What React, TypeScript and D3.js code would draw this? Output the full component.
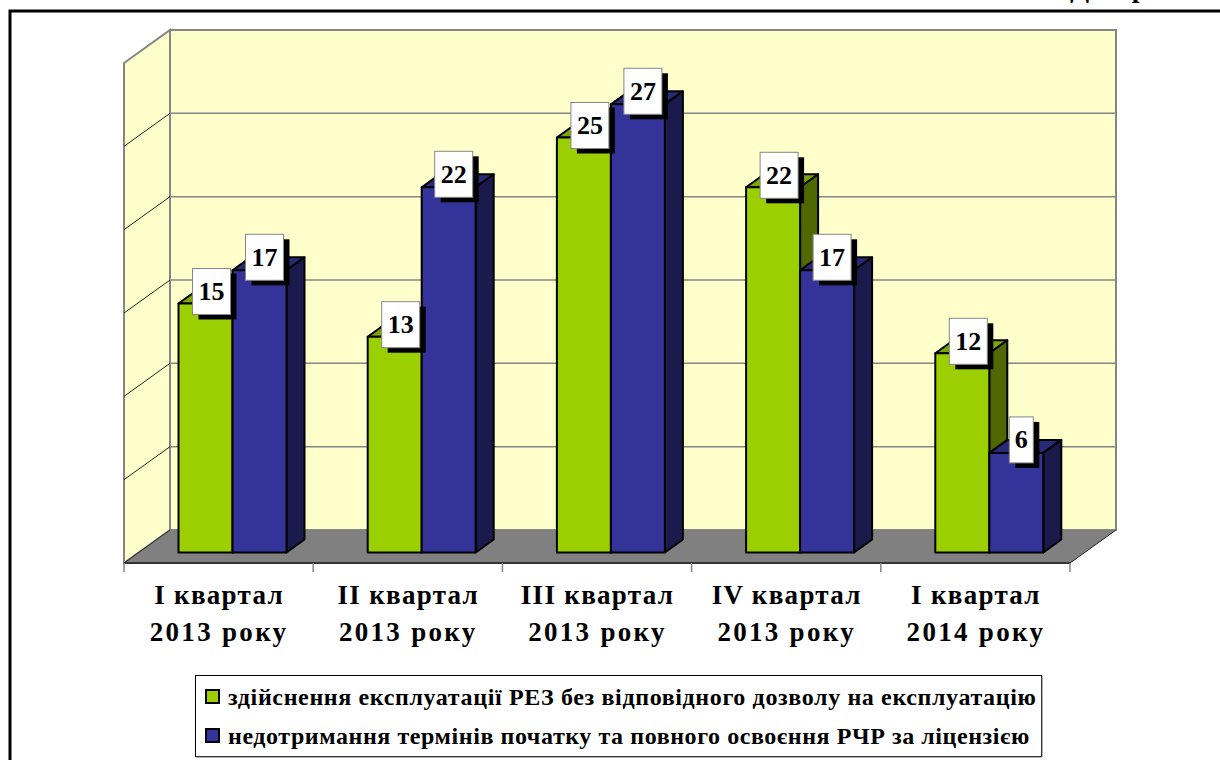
import React from "react";
import * as d3 from "d3";

const categories = [
  ["I квартал", "2013 року"],
  ["II квартал", "2013 року"],
  ["III квартал", "2013 року"],
  ["IV квартал", "2013 року"],
  ["I квартал", "2014 року"],
];
const seriesA = [15, 13, 25, 22, 12];
const seriesB = [17, 22, 27, 17, 6];
const gridValues = [0, 5, 10, 15, 20, 25, 30];
const legendLabels = [
  "здійснення експлуатації РЕЗ без відповідного дозволу на експлуатацію",
  "недотримання термінів початку та повного освоєння РЧР за ліцензією",
];

const FRONT = "#9ccf00", TOP_A = "#7da600", SIDE_A = "#4f6800";
const BLUE = "#333399", TOP_B = "#29297a", SIDE_B = "#1a1a4d";
const WALL = "#ffffcc", GRID = "#868686", FLOOR = "#808080";
const FONT = "'Liberation Serif', 'Times New Roman', serif";

const y0Front = 563, wallDx = 46, wallDy = -33;
const xLeft = 124, xRight = 1070;
const barDx = 18, barDy = -13;
const barBase = 552.5;

const yBack = d3.scaleLinear().domain([0, 30]).range([530, 30]);
const yBar = d3.scaleLinear().domain([0, 30]).range([barBase, barBase - 498]);
const xBand = d3.scaleBand<number>().domain(d3.range(5)).range([xLeft, xRight]);

function pts(p: [number, number][]) {
  return p.map((d) => d.join(",")).join(" ");
}

function Bar({ x, w, v, front, top, side }: any) {
  const t = yBar(v);
  return (
    <g stroke="#000" strokeWidth={2} strokeLinejoin="round">
      <polygon points={pts([[x, t], [x + barDx, t + barDy], [x + w + barDx, t + barDy], [x + w, t]])} fill={top} />
      <polygon points={pts([[x + w, t], [x + w + barDx, t + barDy], [x + w + barDx, barBase + barDy], [x + w, barBase]])} fill={side} />
      <rect x={x} y={t} width={w} height={barBase - t} fill={front} />
    </g>
  );
}

function Tag({ cx, cy, v }: any) {
  const w = v < 10 ? 24 : 38, h = 46;
  return (
    <g>
      <rect x={cx - w / 2 + 6} y={cy - h / 2 + 5} width={w} height={h} fill="#000" />
      <rect x={cx - w / 2} y={cy - h / 2} width={w} height={h} fill="#fff" stroke="#868686" strokeWidth={1} />
      <text x={cx} y={cy + 8.5} textAnchor="middle" fontFamily={FONT} fontWeight="bold" fontSize={26} fill="#000">{v}</text>
    </g>
  );
}

export default function App() {
  const bw = 54;
  const groupStart = (i: number) => (xBand(i) as number) + 54.5;
  return (
    <svg width={1220} height={760} viewBox="0 0 1220 760" style={{ position: "absolute", left: 0, top: 0, background: "#fff" }}>
      {/* page frame */}
      <rect x={10} y={11} width={1240} height={800} fill="none" stroke="#000" strokeWidth={3} />
      <text x={1070} y={-3} fontFamily={FONT} fontWeight="bold" fontSize={28} letterSpacing={2} fill="#000">Діаграма</text>

      {/* walls */}
      <polygon points={pts([[xLeft, yBack(30) - wallDy], [xLeft + wallDx, yBack(30)], [xLeft + wallDx, yBack(0)], [xLeft, y0Front]])} fill={WALL} stroke={GRID} strokeWidth={2} />
      <rect x={xLeft + wallDx} y={yBack(30)} width={xRight - xLeft} height={500} fill={WALL} stroke={GRID} strokeWidth={2} />
      {gridValues.slice(1, -1).map((g) => (
        <g key={g}>
          <line x1={xLeft + wallDx} x2={xRight + wallDx} y1={yBack(g)} y2={yBack(g)} stroke={GRID} strokeWidth={1.5} />
          <line x1={xLeft} x2={xLeft + wallDx} y1={yBack(g) - wallDy} y2={yBack(g)} stroke="#222" strokeWidth={1} />
        </g>
      ))}
      {/* floor */}
      <polygon points={pts([[xLeft, y0Front], [xLeft + wallDx, yBack(0)], [xRight + wallDx, yBack(0)], [xRight, y0Front]])} fill={FLOOR} />
      <line x1={xRight} y1={y0Front} x2={xRight + wallDx} y2={yBack(0)} stroke="#222" strokeWidth={1} />
      <line x1={xLeft} y1={y0Front} x2={xLeft + wallDx} y2={yBack(0)} stroke="#222" strokeWidth={1} />
      <line x1={xLeft} x2={xRight} y1={y0Front} y2={y0Front} stroke="#333" strokeWidth={2} />
      <line x1={xLeft} x2={xLeft} y1={y0Front} y2={y0Front + 9} stroke={GRID} strokeWidth={1.5} />
      {d3.range(5).map((i) => {
        const x = (xBand(i) as number) + xBand.bandwidth();
        return <line key={i} x1={x} x2={x} y1={y0Front} y2={y0Front + 9} stroke={GRID} strokeWidth={1.5} />;
      })}

      {/* bars */}
      {categories.map((_, i) => {
        const x = groupStart(i);
        return (
          <g key={i}>
            <Bar x={x} w={bw} v={seriesA[i]} front={FRONT} top={TOP_A} side={SIDE_A} />
            <Bar x={x + bw} w={bw} v={seriesB[i]} front={BLUE} top={TOP_B} side={SIDE_B} />
          </g>
        );
      })}
      {categories.map((_, i) => {
        const x = groupStart(i);
        return (
          <g key={i}>
            <Tag cx={x + bw + bw / 2 + 5} cy={yBar(seriesB[i]) - 13} v={seriesB[i]} />
            <Tag cx={x + bw / 2 + 6} cy={yBar(seriesA[i]) - 12} v={seriesA[i]} />
          </g>
        );
      })}

      {/* category labels */}
      {categories.map((c, i) => {
        const cx = (xBand(i) as number) + xBand.bandwidth() / 2 + 0.5;
        return (
          <text key={i} textAnchor="middle" fontFamily={FONT} fontWeight="bold" fontSize={27} fill="#000">
            <tspan x={cx} y={604} letterSpacing={1.3}>{c[0]}</tspan>
            <tspan x={cx} y={641} letterSpacing={2.3}>{c[1]}</tspan>
          </text>
        );
      })}

      {/* legend */}
      <rect x={195.5} y={675.5} width={846} height={81} fill="#fff" stroke="#000" strokeWidth={1} />
      <line x1={196} x2={1042} y1={757} y2={757} stroke="#666" strokeWidth={1} />
      <line x1={1042} x2={1042} y1={676} y2={757} stroke="#666" strokeWidth={1} />
      {legendLabels.map((l, i) => {
        const y = 697 + i * 39;
        return (
          <g key={i}>
            <rect x={206} y={y - 7} width={13} height={13} fill={i === 0 ? FRONT : BLUE} stroke="#000" strokeWidth={2} />
            <text x={228} y={y + 8} fontFamily={FONT} fontWeight="bold" fontSize={24} letterSpacing={i === 0 ? 0.63 : 0.57} fill="#000">{l}</text>
          </g>
        );
      })}
    </svg>
  );
}
